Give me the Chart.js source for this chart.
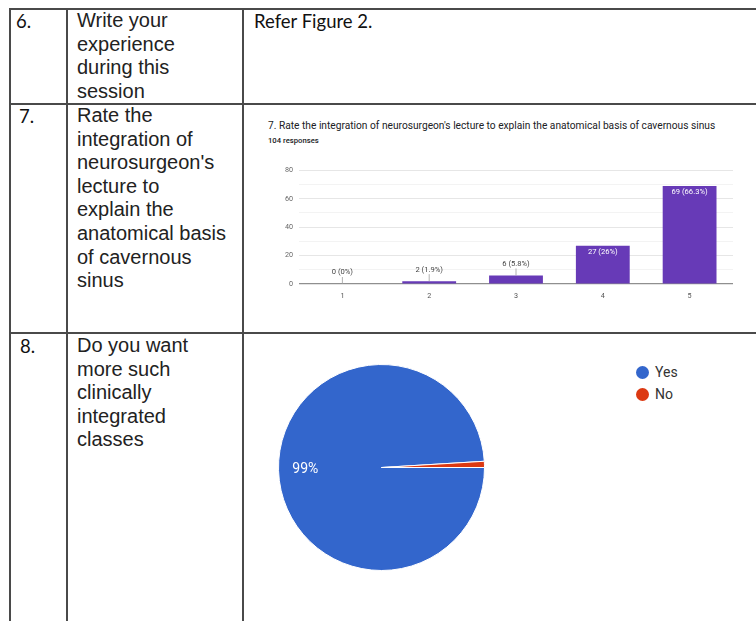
<!DOCTYPE html>
<html>
<head>
<meta charset="utf-8">
<script src="https://cdn.jsdelivr.net/npm/chart.js@4.4.0/dist/chart.umd.min.js"></script>
<style>
  html, body { margin: 0; padding: 0; background: #fff; }
  body { width: 756px; height: 621px; position: relative; overflow: hidden; }
  .hl, .vl { position: absolute; background: #4a4a4a; }
  .hl { height: 2px; }
  .vl { width: 2px; }
  .num { position: absolute; font-family: Lato, sans-serif; font-size: 18.5px; color: #111; line-height: 24px; }
  .q { position: absolute; left: 77px; font-family: "Liberation Sans", Arial, sans-serif; font-size: 20px; line-height: 23.6px; color: #222; white-space: nowrap; }
  .ans { position: absolute; left: 254px; top: 9px; font-family: Lato, sans-serif; font-size: 18.5px; line-height: 24px; color: #111; }
  .title { position: absolute; left: 268px; top: 120px; font-family: Roboto, sans-serif; font-size: 10.2px; color: #202124; white-space: nowrap; }
  .sub { position: absolute; left: 268px; top: 136px; font-family: Roboto, sans-serif; font-size: 7.7px; font-weight: 500; color: #202124; white-space: nowrap; }
  #barBox { position: absolute; left: 262px; top: 160px; width: 478px; height: 145px; }
  #pieBox { position: absolute; left: 278px; top: 364px; width: 207px; height: 207px; }
  #legend { position: absolute; left: 636px; top: 363px; font-family: Roboto, sans-serif; font-size: 14px; color: #333; }
  #legend div { height: 22px; line-height: 18px; white-space: nowrap; }
  #legend span { display: inline-block; width: 13px; height: 13px; border-radius: 50%; vertical-align: -2px; margin-right: 6px; }
</style>
</head>
<body>

<!-- table grid -->
<div class="hl" style="left:10px; top:8px; width:746px;"></div>
<div class="hl" style="left:10px; top:103px; width:746px;"></div>
<div class="hl" style="left:10px; top:332px; width:746px;"></div>
<div class="vl" style="left:9px; top:8px; height:613px;"></div>
<div class="vl" style="left:66px; top:8px; height:613px;"></div>
<div class="vl" style="left:242px; top:8px; height:613px;"></div>

<!-- row 6 -->
<div class="num" style="left:16px; top:9px;">6.</div>
<div class="q" style="top:9px;">Write your<br>experience<br>during this<br>session</div>
<div class="ans">Refer Figure 2.</div>

<!-- row 7 -->
<div class="num" style="left:19px; top:104px;">7.</div>
<div class="q" style="top:104px;">Rate the<br>integration of<br>neurosurgeon's<br>lecture to<br>explain the<br>anatomical basis<br>of cavernous<br>sinus</div>
<div class="title">7. Rate the integration of neurosurgeon's lecture to explain the anatomical basis of cavernous sinus</div>
<div class="sub">104 responses</div>
<div id="barBox"><canvas id="barChart"></canvas></div>

<!-- row 8 -->
<div class="num" style="left:20px; top:334px;">8.</div>
<div class="q" style="top:334px;">Do you want<br>more such<br>clinically<br>integrated<br>classes</div>
<div id="pieBox"><canvas id="pieChart"></canvas></div>
<div id="legend"></div>

<script>
// Question 7 - rating distribution
const ratingLabels = ['1', '2', '3', '4', '5'];
const ratingCounts = [0, 2, 6, 27, 69];
const ratingPercents = ['0%', '1.9%', '5.8%', '26%', '66.3%'];

// Question 8 - yes / no
const pieLabels = ['Yes', 'No'];
const pieCounts = [103, 1];
const piePercents = ['99%', '1%'];
const pieColors = ['#3366cc', '#dc3912'];

Chart.defaults.font.family = 'Roboto, sans-serif';
Chart.defaults.animation = false;

/**
 * Count labels above small bars, inside the top of tall bars
 */
const barLabels = {
    id: 'barLabels',
    afterDatasetsDraw(chart) {
        const ctx = chart.ctx;
        const meta = chart.getDatasetMeta(0);
        ctx.save();
        ctx.font = '7.6px Roboto, sans-serif';
        ctx.textAlign = 'center';
        ctx.textBaseline = 'middle';
        meta.data.forEach((bar, i) => {
            const text = ratingCounts[i] + ' (' + ratingPercents[i] + ')';
            const h = bar.base - bar.y;
            if (h > 16) {
                ctx.fillStyle = '#ffffff';
                ctx.fillText(text, bar.x, bar.y + 6.5);
            } else {
                const ly = bar.y - 11.5;
                ctx.strokeStyle = '#9e9e9e';
                ctx.lineWidth = 0.8;
                ctx.beginPath();
                ctx.moveTo(bar.x, ly + 4.5);
                ctx.lineTo(bar.x, bar.y);
                ctx.stroke();
                ctx.fillStyle = '#444';
                ctx.fillText(text, bar.x, ly);
            }
        });
        ctx.restore();
    }
};

/**
 * Percent label on the big slice
 */
const pieLabelsPlugin = {
    id: 'pieLabels',
    afterDatasetsDraw(chart) {
        const ctx = chart.ctx;
        const meta = chart.getDatasetMeta(0);
        const total = pieCounts.reduce((a, b) => a + b, 0);
        ctx.save();
        ctx.font = '14px Roboto, sans-serif';
        ctx.fillStyle = '#ffffff';
        ctx.textAlign = 'center';
        ctx.textBaseline = 'middle';
        meta.data.forEach((arc, i) => {
            if (pieCounts[i] / total < 0.05) return;
            const mid = (arc.startAngle + arc.endAngle) / 2;
            const r = arc.outerRadius * 0.74;
            ctx.fillText(piePercents[i], arc.x + Math.cos(mid) * r, arc.y + Math.sin(mid) * r);
        });
        ctx.restore();
    }
};

function createRatingChart() {
    const ctx = document.getElementById('barChart');
    new Chart(ctx, {
        type: 'bar',
        data: {
            labels: ratingLabels,
            datasets: [{
                data: ratingCounts,
                backgroundColor: '#673ab7',
                borderWidth: 0,
                categoryPercentage: 1,
                barPercentage: 0.62
            }]
        },
        options: {
            responsive: true,
            maintainAspectRatio: false,
            layout: { padding: { left: 0, right: 7, top: 7, bottom: 0 } },
            plugins: {
                legend: { display: false },
                tooltip: { enabled: false }
            },
            scales: {
                x: {
                    grid: { display: false },
                    border: { display: false },
                    ticks: { color: '#555', font: { size: 7.2 }, padding: 0 },
                    afterFit: function(scale) { scale.height = 21; }
                },
                y: {
                    min: 0,
                    max: 80,
                    border: { display: false },
                    grid: {
                        drawTicks: false,
                        color: function(c) {
                            if (c.tick.value === 0) return '#8f8f8f';
                            return c.tick.value % 20 === 0 ? '#e6e6e6' : '#f3f3f3';
                        },
                        lineWidth: function(c) { return c.tick.value === 0 ? 1.2 : 1; }
                    },
                    ticks: {
                        stepSize: 10,
                        color: '#666',
                        font: { size: 7.2 },
                        padding: 6,
                        callback: function(v) { return v % 20 === 0 ? v : ''; }
                    },
                    afterFit: function(scale) { scale.width = 37; }
                }
            }
        },
        plugins: [barLabels]
    });
}

function createYesNoChart() {
    const ctx = document.getElementById('pieChart');
    new Chart(ctx, {
        type: 'pie',
        data: {
            labels: pieLabels,
            datasets: [{
                data: pieCounts,
                backgroundColor: pieColors,
                borderColor: '#ffffff',
                borderWidth: 1
            }]
        },
        options: {
            responsive: true,
            maintainAspectRatio: false,
            rotation: 90,
            layout: { padding: 0 },
            plugins: {
                legend: { display: false },
                tooltip: { enabled: false }
            }
        },
        plugins: [pieLabelsPlugin]
    });

    // legend next to the pie
    const legend = document.getElementById('legend');
    pieLabels.forEach((label, i) => {
        const row = document.createElement('div');
        const dot = document.createElement('span');
        dot.style.background = pieColors[i];
        row.appendChild(dot);
        row.appendChild(document.createTextNode(label));
        legend.appendChild(row);
    });
}

createRatingChart();
createYesNoChart();
</script>
</body>
</html>
